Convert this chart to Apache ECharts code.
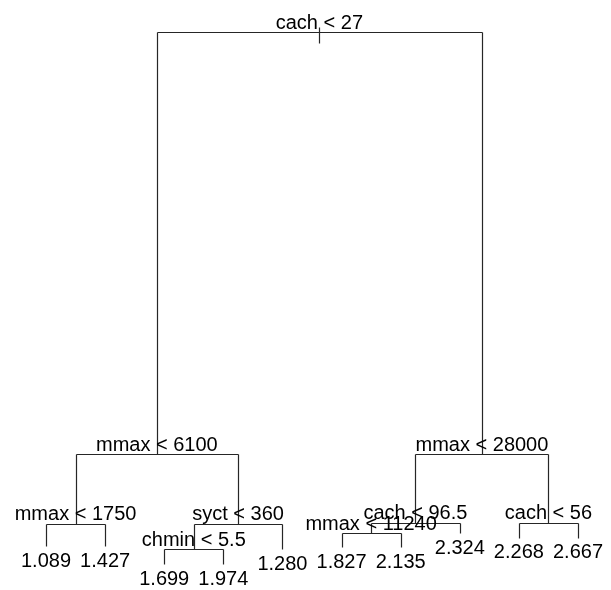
<!DOCTYPE html>
<html>
<head>
<meta charset="utf-8">
<script src="https://cdn.jsdelivr.net/npm/echarts@6/dist/echarts.min.js"></script>
<style>
html,body{margin:0;padding:0;background:#fff}
#main{width:611px;height:590px}
</style>
</head>
<body>
<div id="main"></div>
<script>
// split nodes (deviance = height in the dendrogram)
var splitLabels = ['cach < 27', 'mmax < 6100', 'mmax < 1750', 'syct < 360', 'chmin < 5.5',
                   'mmax < 28000', 'cach < 96.5', 'mmax < 11240', 'cach < 56'];
var splitDev = [43.07, 9.03, 3.39, 3.39, 1.37, 9.03, 3.47, 2.66, 3.50];
// children of each split: s = split index, l = leaf index
var splitKids = [['s1', 's5'], ['s2', 's3'], ['l0', 'l1'], ['s4', 'l4'], ['l2', 'l3'],
                 ['s6', 's8'], ['s7', 'l7'], ['l5', 'l6'], ['l8', 'l9']];
// leaves
var leafLabels = ['1.089', '1.427', '1.699', '1.974', '1.280', '1.827', '2.135', '2.324', '2.268', '2.667'];
var leafDev = [1.61, 1.61, 0.16, 0.16, 1.37, 1.53, 1.53, 2.66, 2.26, 2.26];
// little stub through the root
var rootStub = [42.18, 43.47];

function nodeX(id) {
    var i = parseInt(id.slice(1));
    if (id[0] == 'l') return i + 1;
    return (nodeX(splitKids[i][0]) + nodeX(splitKids[i][1])) / 2;
}
function nodeDev(id) {
    var i = parseInt(id.slice(1));
    return id[0] == 'l' ? leafDev[i] : splitDev[i];
}

var segs = [];
var texts = [];
for (var i = 0; i < splitKids.length; i++) {
    var a = splitKids[i][0], b = splitKids[i][1];
    var d = splitDev[i];
    segs.push([nodeX(a), d, nodeX(b), d]);
    segs.push([nodeX(a), nodeDev(a), nodeX(a), d]);
    segs.push([nodeX(b), nodeDev(b), nodeX(b), d]);
    texts.push([nodeX('s' + i), d, 0, i]);
}
segs.push([nodeX('s0'), rootStub[0], nodeX('s0'), rootStub[1]]);
for (var j = 0; j < leafLabels.length; j++) {
    texts.push([j + 1, leafDev[j], 1, j]);
}

var myChart = echarts.init(document.getElementById('main'));
var option = {
    backgroundColor: '#fff',
    animation: false,
    grid: {left: 46, right: 33, top: 32, bottom: 24},
    xAxis: {type: 'value', min: 1, max: 10, show: false},
    yAxis: {type: 'value', min: 0, max: 43.07, show: false},
    series: [{
        type: 'custom',
        clip: false,
        data: segs,
        renderItem: function (params, api) {
            var p1 = api.coord([api.value(0), api.value(1)]);
            var p2 = api.coord([api.value(2), api.value(3)]);
            // snap to pixel centres so the 1px strokes stay crisp
            var x1 = Math.round(p1[0]) + 0.5, y1 = Math.round(p1[1]) + 0.5;
            var x2 = Math.round(p2[0]) + 0.5, y2 = Math.round(p2[1]) + 0.5;
            return {
                type: 'line',
                shape: {x1: x1, y1: y1, x2: x2, y2: y2},
                style: {stroke: '#262626', lineWidth: 1.2}
            };
        }
    }, {
        type: 'custom',
        clip: false,
        data: texts,
        renderItem: function (params, api) {
            var p = api.coord([api.value(0), api.value(1)]);
            var isLeaf = api.value(2) == 1;
            var k = api.value(3);
            return {
                type: 'text',
                x: p[0],
                y: isLeaf ? p[1] + 5 : p[1] + 1,
                style: {
                    text: isLeaf ? leafLabels[k] : splitLabels[k],
                    fill: '#000',
                    font: '20px "Liberation Sans", Arial, sans-serif',
                    align: 'center',
                    verticalAlign: isLeaf ? 'top' : 'bottom'
                }
            };
        }
    }]
};
myChart.setOption(option);
</script>
</body>
</html>
